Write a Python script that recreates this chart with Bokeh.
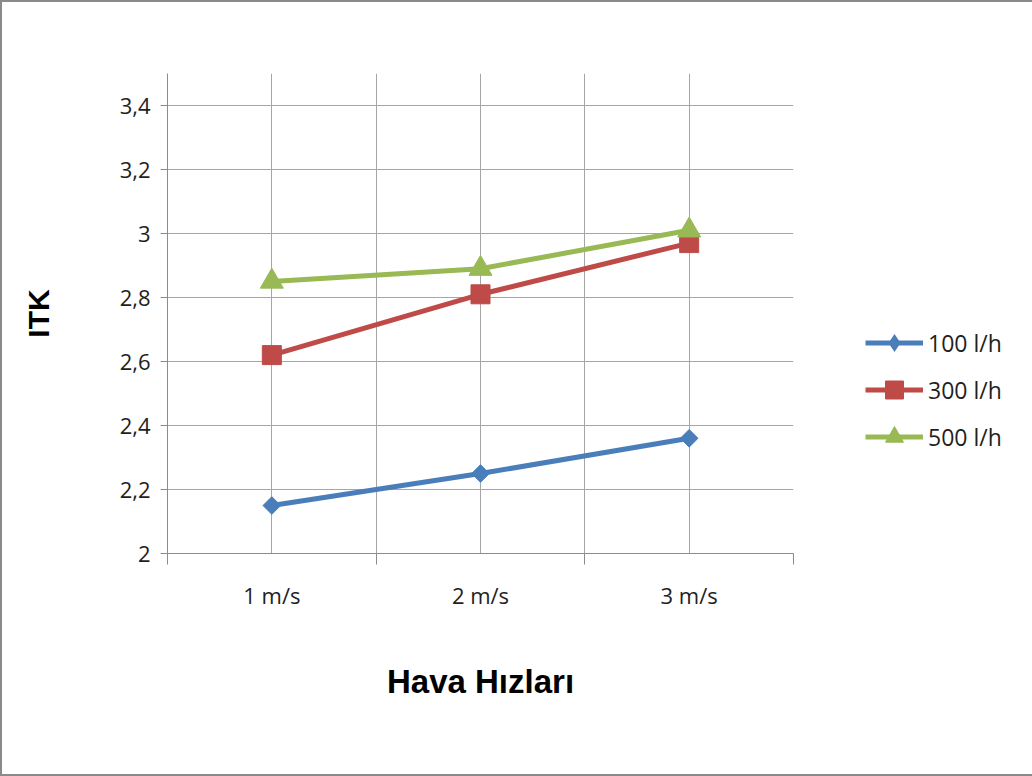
import math

from bokeh.embed import file_html
from bokeh.models import (ColumnDataSource, FixedTicker, Legend, LegendItem,
                          Range1d)
from bokeh.plotting import figure
from bokeh.resources import INLINE

# ITK values for three water flow rates at three air speeds
speeds = ["1 m/s", "2 m/s", "3 m/s"]
flow_100 = [2.15, 2.25, 2.36]
flow_300 = [2.62, 2.81, 2.97]
flow_500 = [2.85, 2.89, 3.01]
series_names = ["100 l/h", "300 l/h", "500 l/h"]
y_ticks = [2, 2.2, 2.4, 2.6, 2.8, 3, 3.2, 3.4]
y_tick_labels = ["2", "2,2", "2,4", "2,6", "2,8", "3", "3,2", "3,4"]

x_pos = list(range(1, len(speeds) + 1))
x_bounds = [i - 0.5 for i in x_pos] + [x_pos[-1] + 0.5]

TICK_FONT = "Open Sans"
TITLE_FONT = "Liberation Sans"
TEXT_COLOR = "#1f1f1f"

p = figure(
    frame_width=626, frame_height=480,
    output_backend="svg", toolbar_location=None,
    x_range=Range1d(x_bounds[0], x_bounds[-1]),
    y_range=Range1d(2, 3.5),
    min_border_left=165, min_border_right=239,
    min_border_top=71, min_border_bottom=221,
    background_fill_color="white", border_fill_color="white",
)
p.outline_line_color = None
p.styles = {"border-left": "2px solid #8a8a8a",
            "border-top": "2px solid #8a8a8a",
            "border-bottom": "2px solid #8a8a8a"}

# grid: vertical lines at category centres and boundaries
grid_color = "#a6a6a6"
p.xgrid.ticker = FixedTicker(ticks=sorted(x_pos + x_bounds))
p.xgrid.grid_line_color = grid_color
p.ygrid.ticker = FixedTicker(ticks=y_ticks)
p.ygrid.grid_line_color = grid_color

# x axis
xa = p.xaxis[0]
xa.ticker = FixedTicker(ticks=x_pos, minor_ticks=x_bounds)
xa.major_label_overrides = {x: s for x, s in zip(x_pos, speeds)}
xa.major_tick_out = 0
xa.major_tick_in = 0
xa.minor_tick_out = 11
xa.minor_tick_in = 0
xa.minor_tick_line_color = "#8c8c8c"
xa.axis_line_color = "#8c8c8c"
xa.major_label_standoff = 15
xa.major_label_text_font = TICK_FONT
xa.major_label_text_font_size = "22px"
xa.major_label_text_color = TEXT_COLOR
xa.axis_label = "Hava Hızları"
xa.axis_label_text_font = TITLE_FONT
xa.axis_label_text_font_size = "33px"
xa.axis_label_text_font_style = "bold"
xa.axis_label_text_color = "black"
xa.axis_label_standoff = 50

# y axis
ya = p.yaxis[0]
ya.ticker = FixedTicker(ticks=y_ticks, minor_ticks=[])
ya.major_label_overrides = {t: s for t, s in zip(y_ticks, y_tick_labels)}
ya.major_tick_out = 7
ya.major_tick_in = 0
ya.major_tick_line_color = "#8c8c8c"
ya.axis_line_color = "#8c8c8c"
ya.major_label_standoff = 10
ya.major_label_text_font = TICK_FONT
ya.major_label_text_font_size = "22px"
ya.major_label_text_color = TEXT_COLOR
ya.axis_label = "ITK"
ya.axis_label_text_font = TITLE_FONT
ya.axis_label_text_font_size = "30px"
ya.axis_label_text_font_style = "bold"
ya.axis_label_text_color = "black"
ya.axis_label_standoff = 62

colors = ["#4A7EBB", "#BE4B48", "#98B954"]
all_values = [flow_100, flow_300, flow_500]

items = []
for name, vals, color, idx in zip(series_names, all_values, colors, range(3)):
    src = ColumnDataSource(dict(x=x_pos, y=vals))
    line = p.line("x", "y", source=src, line_color=color, line_width=5)
    if idx == 0:
        pts = p.scatter("x", "y", source=src, marker="square", size=12.5,
                        angle=math.pi / 4, fill_color=color, line_color=color)
        # diamond glyph shown in the legend entry
        key = p.scatter("x", "y", source=src, marker="diamond", size=0,
                        fill_color=color, line_color=None)
        items.append(LegendItem(label=name, renderers=[line, key]))
    elif idx == 1:
        pts = p.scatter("x", "y", source=src, marker="square", size=19,
                        fill_color=color, line_color=color)
        items.append(LegendItem(label=name, renderers=[line, pts]))
    else:
        pts = p.scatter("x", "y", source=src, marker="triangle", size=23,
                        fill_color=color, line_color=color)
        items.append(LegendItem(label=name, renderers=[line, pts]))

legend = Legend(
    items=items, location=(72, 94),
    glyph_width=58, glyph_height=45, label_height=45,
    label_standoff=5, spacing=2, padding=0, margin=0,
    border_line_color=None, background_fill_alpha=0,
    label_text_font=TICK_FONT, label_text_font_size="23px",
    label_text_color=TEXT_COLOR,
)
p.add_layout(legend, "right")

open("out.html", "w").write(file_html(p, INLINE))
